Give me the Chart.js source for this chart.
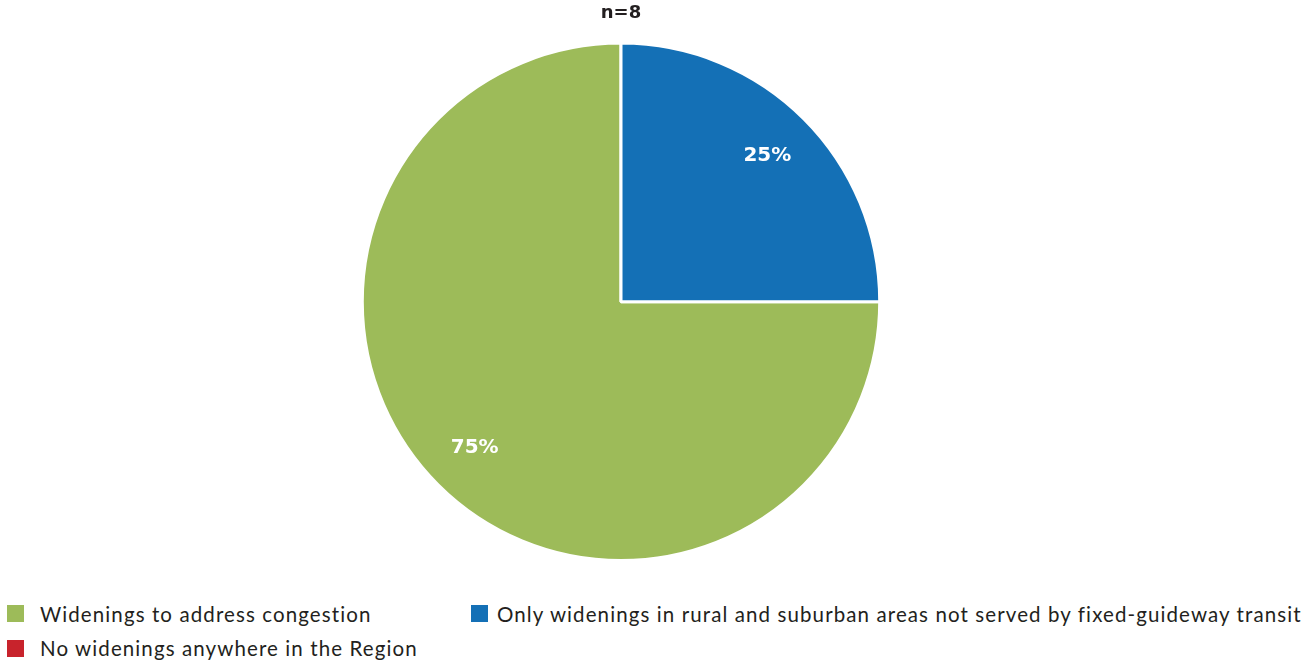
<!DOCTYPE html>
<html>
<head>
<meta charset="utf-8">
<script src="https://cdn.jsdelivr.net/npm/chart.js@4.4.1/dist/chart.umd.min.js"></script>
<style>
  html, body { margin: 0; padding: 0; background: #fff; }
  body { width: 1304px; height: 661px; position: relative; overflow: hidden; font-family: "Lato", "DejaVu Sans", sans-serif; }
  #wrap { position: absolute; left: 0; top: 0; width: 1304px; height: 562px; }
  .leg { position: absolute; font-size: 20.5px; letter-spacing: 1.1px; color: #231f20; white-space: nowrap; line-height: 20px; }
  .sw { position: absolute; width: 17px; height: 17px; }
</style>
</head>
<body>
<div id="wrap"><canvas id="c"></canvas></div>
<div id="legend"></div>
<script>
const categories = [
  "Widenings to address congestion",
  "Only widenings in rural and suburban areas not served by fixed-guideway transit",
  "No widenings anywhere in the Region"
];
const values = [75, 25, 0];
const colors = ["#9dbb59", "#1470b6", "#c8232c"];
const titleText = "n=8";

const labelPlugin = {
  id: 'pctLabels',
  afterDatasetsDraw(chart) {
    const ctx = chart.ctx;
    const meta = chart.getDatasetMeta(0);
    const total = values.reduce((a, b) => a + b, 0);
    ctx.save();
    ctx.fillStyle = '#ffffff';
    ctx.font = 'bold 20px "DejaVu Sans", sans-serif';
    ctx.textAlign = 'center';
    ctx.textBaseline = 'middle';
    meta.data.forEach((arc, i) => {
      if (!values[i]) return;
      const p = arc.getProps(['x', 'y', 'startAngle', 'endAngle', 'outerRadius'], true);
      const mid = (p.startAngle + p.endAngle) / 2;
      const r = p.outerRadius * 0.8;
      const pct = Math.round(values[i] / total * 100) + '%';
      ctx.fillText(pct, p.x + Math.cos(mid) * r, p.y + Math.sin(mid) * r);
    });
    ctx.restore();
  }
};

new Chart(document.getElementById('c'), {
  type: 'pie',
  data: {
    labels: categories,
    datasets: [{
      data: values,
      backgroundColor: colors,
      borderColor: '#ffffff',
      borderWidth: 3
    }]
  },
  options: {
    responsive: true,
    maintainAspectRatio: false,
    animation: false,
    rotation: 90,
    layout: { padding: { left: 0, right: 62, top: 0, bottom: 0 } },
    plugins: {
      legend: { display: false },
      tooltip: { enabled: false },
      title: {
        display: true,
        text: titleText,
        color: '#231f20',
        font: { family: '"DejaVu Sans", sans-serif', size: 18, weight: 'bold', lineHeight: 1.2 },
        padding: { top: 3, bottom: 17 }
      }
    }
  },
  plugins: [labelPlugin]
});

// HTML legend
const legendPos = [
  { sx: 7, sy: 605, tx: 40, ty: 604 },
  { sx: 471, sy: 605, tx: 497, ty: 604 },
  { sx: 7, sy: 640, tx: 40, ty: 638 }
];
const leg = document.getElementById('legend');
categories.forEach((c, i) => {
  const s = document.createElement('div');
  s.className = 'sw';
  s.style.left = legendPos[i].sx + 'px';
  s.style.top = legendPos[i].sy + 'px';
  s.style.background = colors[i];
  leg.appendChild(s);
  const t = document.createElement('div');
  t.className = 'leg';
  t.style.left = legendPos[i].tx + 'px';
  t.style.top = legendPos[i].ty + 'px';
  t.textContent = c;
  leg.appendChild(t);
});
</script>
</body>
</html>
